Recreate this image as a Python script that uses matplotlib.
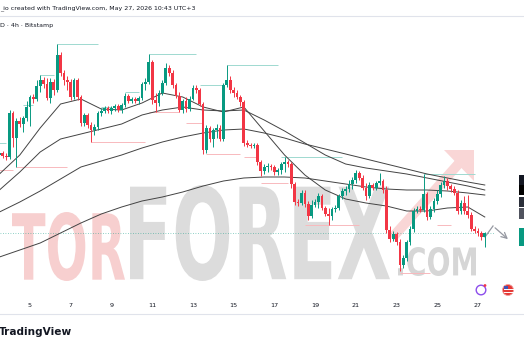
import numpy as np
import pandas as pd
import matplotlib
matplotlib.use("Agg")
import matplotlib.pyplot as plt
import matplotlib.dates as mdates
from matplotlib.patches import PathPatch, Rectangle, Circle, Polygon
from matplotlib.textpath import TextPath
from matplotlib.font_manager import FontProperties
from matplotlib.transforms import Affine2D

# 4h candles, Bitstamp
times = pd.date_range("2026-05-03 12:00", periods=144, freq="4h")

opens = [145, 147, 144, 143, 187, 162, 179, 176, 182, 193,
         203, 201, 214, 220, 216, 202, 218, 210, 245, 227,
         220, 218, 203, 220, 203, 177, 185, 175, 170, 173,
         187, 189, 192, 189, 192, 194, 190, 195, 204, 199,
         201, 199, 202, 216, 218, 238, 200, 197, 207, 217,
         232, 227, 215, 204, 190, 199, 191, 201, 212, 210,
         196, 150, 172, 161, 170, 172, 161, 215, 220, 210,
         207, 203, 198, 157, 155, 154, 155, 138, 129, 133,
         134, 133, 128, 130, 136, 138, 136, 116, 98, 97,
         107, 96, 84, 95, 98, 104, 92, 86, 84, 91,
         92, 104, 109, 111, 116, 120, 127, 122, 112, 104,
         115, 112, 117, 119, 110, 70, 61, 66, 58, 35,
         42, 58, 71, 89, 91, 90, 106, 83, 91, 99,
         106, 115, 119, 114, 111, 107, 89, 97, 89, 85,
         71, 69, 67, 63]
highs = [150, 149, 147, 190, 189, 182, 183, 184, 199, 205,
         206, 220, 225, 223, 222, 222, 221, 256, 248, 230,
         224, 221, 222, 222, 205, 187, 187, 178, 176, 189,
         192, 194, 194, 194, 196, 196, 197, 207, 206, 203,
         203, 204, 218, 222, 246, 240, 207, 210, 220, 237,
         235, 230, 217, 208, 201, 203, 204, 215, 215, 212,
         198, 175, 174, 172, 176, 175, 217, 235, 224, 213,
         210, 205, 200, 160, 157, 157, 157, 140, 136, 137,
         136, 135, 132, 138, 143, 140, 138, 118, 101, 110,
         110, 99, 100, 101, 107, 106, 94, 92, 93, 95,
         106, 112, 114, 120, 123, 130, 129, 125, 117, 118,
         117, 119, 127, 121, 114, 74, 69, 68, 61, 45,
         60, 74, 92, 94, 94, 126, 108, 94, 102, 110,
         118, 124, 122, 116, 114, 110, 100, 104, 105, 88,
         74, 72, 69, 68]
lows = [142, 142, 140, 141, 153, 133, 173, 168, 179, 174,
        197, 199, 208, 212, 200, 197, 205, 208, 224, 215,
        210, 200, 201, 200, 174, 174, 172, 158, 165, 170,
        184, 187, 187, 186, 189, 188, 187, 193, 197, 197,
        197, 196, 200, 210, 216, 196, 188, 194, 205, 215,
        224, 212, 202, 188, 187, 188, 189, 200, 207, 194,
        146, 147, 158, 153, 162, 159, 159, 213, 207, 203,
        201, 194, 154, 153, 152, 152, 135, 124, 126, 128,
        130, 125, 125, 126, 128, 133, 112, 95, 94, 95,
        93, 80, 82, 93, 92, 90, 84, 75, 80, 88,
        90, 101, 105, 108, 111, 117, 120, 110, 100, 102,
        110, 110, 115, 107, 67, 58, 59, 55, 29, 32,
        39, 55, 68, 87, 88, 88, 80, 81, 88, 96,
        103, 112, 110, 108, 105, 86, 86, 86, 82, 69,
        67, 64, 60, 53]
closes = [147, 144, 143, 187, 162, 179, 176, 182, 193, 203,
          201, 214, 220, 216, 202, 218, 210, 245, 227, 220,
          218, 203, 220, 203, 177, 185, 175, 170, 173, 187,
          189, 192, 189, 192, 194, 190, 195, 204, 199, 201,
          199, 202, 216, 218, 238, 200, 197, 207, 217, 232,
          227, 215, 204, 190, 199, 191, 201, 212, 210, 196,
          150, 172, 161, 170, 172, 161, 215, 220, 210, 207,
          203, 198, 157, 155, 154, 155, 138, 129, 133, 134,
          133, 128, 130, 136, 138, 136, 116, 98, 97, 107,
          96, 84, 95, 98, 104, 92, 86, 84, 91, 92,
          104, 109, 111, 116, 120, 127, 122, 112, 104, 115,
          112, 117, 119, 110, 70, 61, 66, 58, 35, 42,
          58, 71, 89, 91, 90, 106, 83, 91, 99, 106,
          115, 119, 114, 111, 107, 89, 97, 89, 85, 71,
          69, 67, 63, 67]

# moving averages, read every 6 candles (last one at the final candle)
ma_idx = [0, 6, 12, 18, 24, 30, 36, 42, 48, 54, 60, 66, 72, 78, 84, 90,
          96, 102, 108, 114, 120, 126, 132, 138, 143]
ma_fast = [126, 145, 172, 196, 201, 191, 190, 197, 207, 203, 193, 188, 193,
           169, 145, 125, 110, 101, 97, 94, 89, 89, 92, 93, 83]
ma_mid = [110, 128, 148, 161, 166, 171, 176, 185, 190, 193, 190, 189, 190,
          180, 169, 157, 145, 136, 132, 129, 126, 122, 118, 114, 110]
ma_slow = [88, 98, 109, 121, 133, 139, 145, 152, 158, 163, 167, 170, 171,
           167, 162, 156, 151, 146, 141, 136, 131, 126, 122, 118, 115]
ma_long = [43, 50, 57, 67, 77, 86, 93, 99, 103, 108, 114, 119, 122, 123,
           123, 122, 119, 116, 113, 111, 110, 110, 109, 107, 105]

# swing high / low lines: start candle, end candle, level
high_start = [0, 7, 12, 17, 30, 37, 44, 59, 67, 83, 125]
high_end = [2, 10, 16, 29, 33, 41, 58, 66, 82, 101, 140]
high_level = [157, 195, 225, 256, 193, 208, 246, 215, 235, 143, 126]
low_start = [0, 5, 27, 44, 55, 61, 72, 77, 90, 118, 129]
low_end = [4, 20, 43, 53, 60, 71, 76, 85, 106, 127, 133]
low_level = [130, 133, 158, 188, 177, 146, 143, 117, 75, 27, 75]

tick_days = [5, 7, 9, 11, 13, 15, 17, 19, 21, 23, 25, 27]
tick_labels = [str(d) for d in tick_days]

UP, DOWN = "#089981", "#F23645"
TXT = "#131722"

W, H = 524, 350
fig = plt.figure(figsize=(W / 100, H / 100), dpi=100)
fig.patch.set_facecolor("white")

# background layer in pixel coordinates (watermark, header, footer)
bg = fig.add_axes([0, 0, 1, 1], zorder=0)
bg.set_xlim(0, W)
bg.set_ylim(H, 0)
bg.axis("off")


def word(text, x0, x1, ytop, ybot, color):
    tp = TextPath((0, 0), text, size=100,
                  prop=FontProperties(family="DejaVu Sans", weight="bold"))
    bb = tp.get_extents()
    tr = (Affine2D().translate(-bb.x0, -bb.y0)
          .scale((x1 - x0) / bb.width, -(ybot - ytop) / bb.height)
          .translate(x0, ybot))
    bg.add_patch(PathPatch(tr.transform_path(tp), fc=color, ec="none"))


word("TOR", 12, 125, 212, 281, "#f7cfcf")
word("FOREX", 130, 390, 185, 281, "#dcdcdc")
word(".COM", 398, 476, 247, 276, "#d6d6d6")
bg.add_patch(Polygon([(388, 235), (458, 157), (466, 163), (396, 241)],
                     fc="#f9d6d6", ec="none"))
bg.add_patch(Polygon([(444, 150), (474, 150), (474, 181)], fc="#f9d6d6", ec="none"))

bg.plot([0, W], [16, 16], color="#e0e3eb", lw=0.8)
bg.plot([0, W], [314, 314], color="#e0e3eb", lw=0.8)
bg.text(0, 8, "_io created with TradingView.com, May 27, 2026 10:43 UTC+3",
        fontsize=4.5, color=TXT, va="center", ha="left")
bg.text(0, 25, "D · 4h · Bitstamp", fontsize=4.5, color=TXT, va="center", ha="left")
bg.text(-1, 332, "TradingView", fontsize=7.6, fontweight="bold", color=TXT,
        va="center", ha="left")

# price-scale label boxes peeking in at the right edge
for y0, hgt, col in [(175, 10, "#131722"), (185, 10, "#000000"),
                     (197, 10, "#2a2e39"), (208, 11, "#50535e"), (228, 18, UP)]:
    bg.add_patch(Rectangle((518.5, y0), 8, hgt, fc=col, ec="none"))

# projection arrow
bg.plot([485, 493], [237, 226], color="#9598a1", lw=0.9)
bg.annotate("", xy=(510, 241), xytext=(493, 226),
            arrowprops=dict(arrowstyle="->", color="#9598a1", lw=0.9))

# bottom-right icons
bg.add_patch(Circle((481, 290), 4.8, fill=False, ec="#8c4dec", lw=1.0))
bg.add_patch(Circle((485, 285.5), 1.4, fc="#f23645", ec="none"))
bg.add_patch(Circle((508, 290), 5.5, fc="#e53935", ec="#f2a0a0", lw=0.6))
for yy in (289, 292):
    bg.plot([503.5, 512.5], [yy, yy], color="white", lw=0.7)
bg.add_patch(Rectangle((503.5, 285.5), 4.5, 4, fc="#3f51b5", ec="none"))

# main chart
ax = fig.add_axes([0, (H - 296) / H, 495 / W, (296 - 17) / H], zorder=1)
ax.patch.set_alpha(0)

t = mdates.date2num(times.to_pydatetime())
o, h, l, c = (np.array(v, dtype=float) for v in (opens, highs, lows, closes))
cols = np.where(c >= o, UP, DOWN)

ax.vlines(t, l, h, colors=cols, lw=0.7, zorder=3)
ax.bar(t, np.maximum(np.abs(c - o), 0.9), bottom=np.minimum(o, c),
       width=0.135, color=cols, zorder=4, linewidth=0)

tm = t[ma_idx]
for ma in (ma_fast, ma_mid, ma_slow, ma_long):
    ax.plot(tm, ma, color="#434343", lw=0.7, zorder=2)

for a, b, lev in zip(high_start, high_end, high_level):
    ax.hlines(lev, t[a], t[b], color="#9fd9d0", lw=0.7, zorder=1)
for a, b, lev in zip(low_start, low_end, low_level):
    ax.hlines(lev, t[a], t[b], color="#f8b9bd", lw=0.7, zorder=1)

ax.axhline(c[-1], color=UP, lw=0.6, ls=(0, (1, 2)), alpha=0.6, zorder=1)

d5 = mdates.date2num(pd.Timestamp("2026-05-05").to_pydatetime())
d27 = mdates.date2num(pd.Timestamp("2026-05-27").to_pydatetime())
ppd = 448 / 22
ax.set_xlim(d5 - 30 / ppd, d27 + 17 / ppd)
ax.set_ylim(4, 283)

ticks = [mdates.date2num(pd.Timestamp(2026, 5, d).to_pydatetime()) for d in tick_days]
ax.set_xticks(ticks)
ax.set_xticklabels(tick_labels, fontsize=4.6, color=TXT)
ax.tick_params(axis="x", length=0, pad=5)
ax.set_yticks([])
for s in ax.spines.values():
    s.set_visible(False)

fig.savefig("out.png", dpi=100)
